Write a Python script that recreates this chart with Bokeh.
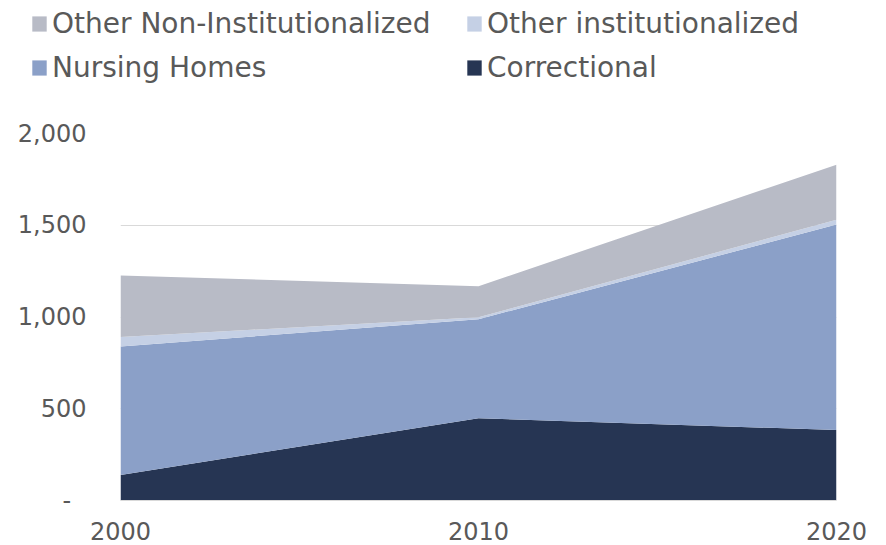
from bokeh.plotting import figure
from bokeh.layouts import column
from bokeh.models import (ColumnDataSource, Range1d, FixedTicker, NumeralTickFormatter,
                          Legend, LegendItem)
from bokeh.embed import file_html
from bokeh.resources import INLINE

# ---- data ----
years = [2000, 2010, 2020]
correctional = [139, 448, 384]
nursing_homes = [700, 540, 1120]
other_institutionalized = [52, 10, 26]
other_non_institutionalized = [335, 170, 300]

series_names = ["Correctional", "Nursing Homes", "Other institutionalized",
                "Other Non-Institutionalized"]
series_cols = ["correctional", "nursing_homes", "other_inst", "other_non"]
colors = ["#263553", "#8BA0C8", "#C5D0E5", "#B8BBC6"]
y_ticks = [0, 500, 1000, 1500, 2000]
x_ticks = [2000, 2010, 2020]

source = ColumnDataSource(dict(
    x=years,
    correctional=correctional,
    nursing_homes=nursing_homes,
    other_inst=other_institutionalized,
    other_non=other_non_institutionalized,
))

TEXT = "#595959"
FONT = "DejaVu Sans"

# ---------------- main chart ----------------
p = figure(width=886, height=445, output_backend="svg", toolbar_location=None,
           x_range=Range1d(2000, 2020), y_range=Range1d(0, 2000),
           min_border_left=120, min_border_right=50, min_border_top=33,
           min_border_bottom=45)
p.outline_line_color = None
p.background_fill_color = "white"
p.border_fill_color = "white"

p.varea_stack(stackers=series_cols, x="x", color=colors, source=source)

p.yaxis.ticker = FixedTicker(ticks=y_ticks)
p.yaxis.formatter = NumeralTickFormatter(format="0,0")
p.yaxis.major_label_overrides = {0: "-\u2007"}
p.yaxis.axis_line_color = None
p.yaxis.major_tick_line_color = None
p.yaxis.minor_tick_line_color = None
p.yaxis.major_label_text_font = FONT
p.yaxis.major_label_text_font_size = "24px"
p.yaxis.major_label_text_color = TEXT
p.yaxis.major_label_standoff = 28

p.xaxis.ticker = FixedTicker(ticks=x_ticks)
p.xaxis.axis_line_color = "#D9D9D9"
p.xaxis.axis_line_width = 1
p.xaxis.major_tick_line_color = None
p.xaxis.minor_tick_line_color = None
p.xaxis.major_label_text_font = FONT
p.xaxis.major_label_text_font_size = "24px"
p.xaxis.major_label_text_color = TEXT
p.xaxis.major_label_standoff = 15

p.xgrid.grid_line_color = None
p.ygrid.ticker = FixedTicker(ticks=y_ticks)
p.ygrid.grid_line_color = "#D9D9D9"
p.ygrid.grid_line_width = 1

# ---------------- legend strip ----------------
lg = figure(width=886, height=100, output_backend="svg", toolbar_location=None,
            x_range=Range1d(0, 1), y_range=Range1d(0, 1),
            x_axis_location=None, y_axis_location=None,
            min_border_left=0, min_border_right=0, min_border_top=0,
            min_border_bottom=0)
lg.outline_line_color = None
lg.grid.visible = False
lg.border_fill_color = "white"
lg.background_fill_color = "white"

# keep the two plots' frames independent
if "frame_align" in lg.properties():
    lg.frame_align = False
    p.frame_align = False

# legend swatches take their style from these (off-screen) renderers
r_corr, r_nurse, r_inst, r_non = lg.varea_stack(stackers=series_cols, x="x",
                                                color=colors, source=source)


def make_legend(items, x):
    return Legend(items=items, location=(x, 11), orientation="vertical",
                  padding=0, margin=0, spacing=0, border_line_color=None,
                  background_fill_alpha=0, glyph_width=18, glyph_height=19,
                  label_standoff=4, label_height=44,
                  label_text_font=FONT, label_text_font_size="28px",
                  label_text_color=TEXT)


lg.add_layout(make_legend([LegendItem(label=series_names[3], renderers=[r_non]),
                           LegendItem(label=series_names[1], renderers=[r_nurse])], 30),
              "center")
lg.add_layout(make_legend([LegendItem(label=series_names[2], renderers=[r_inst]),
                           LegendItem(label=series_names[0], renderers=[r_corr])], 465),
              "center")

layout = column(lg, p, spacing=0)
open("out.html", "w").write(file_html(layout, INLINE))
